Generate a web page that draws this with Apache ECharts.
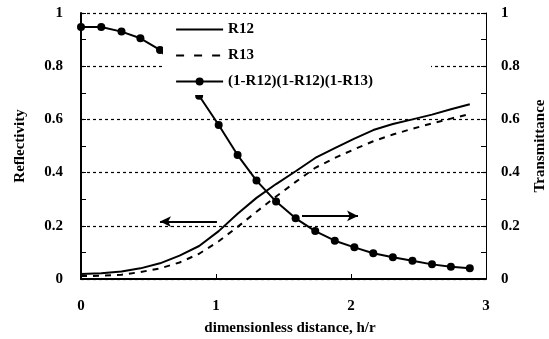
<!DOCTYPE html>
<html>
<head>
<meta charset="utf-8">
<script src="https://cdn.jsdelivr.net/npm/echarts@6/dist/echarts.min.js"></script>
<style>
html,body{margin:0;padding:0;background:#fff;}
#c{width:549px;height:339px;}
</style>
</head>
<body>
<div id="c"></div>
<script>
// dimensionless distance h/r
var xs = [0, 0.15, 0.3, 0.44, 0.585, 0.73, 0.875, 1.02, 1.16, 1.3, 1.445, 1.59, 1.735, 1.88, 2.025, 2.165, 2.31, 2.455, 2.6, 2.74, 2.88];
var r12 = [0.019, 0.022, 0.028, 0.040, 0.059, 0.088, 0.124, 0.180, 0.245, 0.305, 0.357, 0.405, 0.455, 0.492, 0.528, 0.560, 0.583, 0.600, 0.618, 0.638, 0.657];
var r13 = [0.011, 0.012, 0.016, 0.026, 0.040, 0.062, 0.095, 0.142, 0.196, 0.253, 0.310, 0.365, 0.418, 0.455, 0.488, 0.518, 0.543, 0.565, 0.585, 0.603, 0.620];
var trans = [0.947, 0.947, 0.930, 0.905, 0.861, 0.785, 0.689, 0.579, 0.466, 0.370, 0.291, 0.228, 0.180, 0.144, 0.119, 0.097, 0.082, 0.069, 0.055, 0.046, 0.040];
var seriesNames = ['R12', 'R13', '(1-R12)(1-R12)(1-R13)'];
var leftArrow = [[1.007, 0.216], [0.585, 0.216]];
var rightArrow = [[1.637, 0.237], [2.052, 0.237]];

function pairs(x, y) { return x.map(function (v, i) { return [v, y[i]]; }); }

var FONT = 'Liberation Serif';
var lbl = { fontFamily: FONT, fontWeight: 'bold', fontSize: 15, color: '#000' };

var chart = echarts.init(document.getElementById('c'), null, { renderer: 'canvas' });
chart.setOption({
  animation: false,
  backgroundColor: '#fff',
  grid: { left: 81, right: 63, top: 13, bottom: 60 },
  xAxis: {
    type: 'value', min: 0, max: 3, interval: 1,
    axisLine: { show: true, lineStyle: { color: '#000', width: 2 } },
    axisTick: { show: true, inside: true, length: 5, lineStyle: { color: '#000', width: 1 } },
    axisLabel: Object.assign({ margin: 20 }, lbl),
    splitLine: { show: false }
  },
  yAxis: [
    {
      type: 'value', position: 'left', min: 0, max: 1, interval: 0.2,
      axisLine: { show: true, lineStyle: { color: '#000', width: 2 } },
      axisTick: { show: true, inside: true, length: 5, lineStyle: { color: '#000' } },
      minorTick: { show: true, splitNumber: 2, length: 5, lineStyle: { color: '#000' } },
      axisLabel: Object.assign({ margin: 18 }, lbl),
      splitLine: { show: true, lineStyle: { color: '#000', width: 1.2, type: [3, 3] } }
    },
    {
      type: 'value', position: 'right', min: 0, max: 1, interval: 0.2,
      axisLine: { show: true, lineStyle: { color: '#000', width: 1 } },
      axisTick: { show: true, inside: true, length: 5, lineStyle: { color: '#000' } },
      minorTick: { show: true, splitNumber: 2, length: 5, lineStyle: { color: '#000' } },
      axisLabel: Object.assign({ margin: 15 }, lbl),
      splitLine: { show: false }
    }
  ],
  legend: {
    orient: 'vertical', left: 163, top: 14, padding: [8, 58, 6, 12],
    backgroundColor: '#fff', z: 10,
    itemWidth: 47, itemHeight: 10, itemGap: 11,
    textStyle: lbl,
    data: [
      { name: seriesNames[0], itemStyle: { opacity: 0 }, lineStyle: { width: 2.2, color: '#000' } },
      { name: seriesNames[1], itemStyle: { opacity: 0 }, lineStyle: { width: 2.2, color: '#000', type: [8, 10] } },
      { name: seriesNames[2], lineStyle: { width: 2.2, color: '#000' } }
    ]
  },
  graphic: [
    { type: 'text', x: 20, y: 146, rotation: Math.PI / 2, style: { text: 'Reflectivity', font: 'bold 15px "Liberation Serif"', fill: '#000', align: 'center', verticalAlign: 'middle' } },
    { type: 'text', x: 540, y: 146, rotation: Math.PI / 2, style: { text: 'Transmittance', font: 'bold 15px "Liberation Serif"', fill: '#000', align: 'center', verticalAlign: 'middle' } },
    { type: 'text', x: 290, y: 328, style: { text: 'dimensionless distance, h/r', font: 'bold 15px "Liberation Serif"', fill: '#000', align: 'center', verticalAlign: 'middle' } }
  ],
  series: [
    {
      name: seriesNames[0], type: 'line', yAxisIndex: 0, data: pairs(xs, r12),
      symbol: 'none', lineStyle: { color: '#000', width: 2 }, itemStyle: { color: '#000' },
      markLine: {
        silent: true, symbol: ['none', 'arrow'], symbolSize: [8, 11],
        label: { show: false },
        lineStyle: { color: '#000', width: 2, type: 'solid' },
        data: [[{ coord: leftArrow[0] }, { coord: leftArrow[1] }]]
      }
    },
    {
      name: seriesNames[1], type: 'line', yAxisIndex: 0, data: pairs(xs, r13),
      symbol: 'none', lineStyle: { color: '#000', width: 2, type: [6, 6] }, itemStyle: { color: '#000' }
    },
    {
      name: seriesNames[2], type: 'line', yAxisIndex: 1, data: pairs(xs, trans),
      symbol: 'circle', symbolSize: 8, lineStyle: { color: '#000', width: 2 }, itemStyle: { color: '#000' },
      markLine: {
        silent: true, symbol: ['none', 'arrow'], symbolSize: [8, 11],
        label: { show: false },
        lineStyle: { color: '#000', width: 2, type: 'solid' },
        data: [[{ coord: rightArrow[0] }, { coord: rightArrow[1] }]]
      }
    }
  ]
});
</script>
</body>
</html>
